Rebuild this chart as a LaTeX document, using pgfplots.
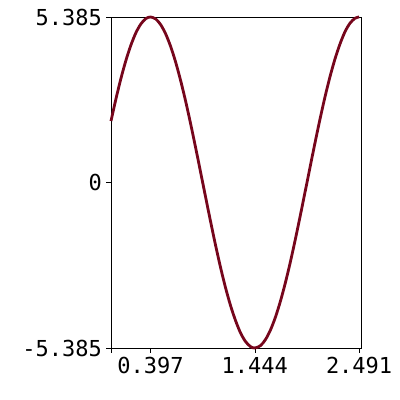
\documentclass[border=0pt]{standalone}
\usepackage{pgfplots}
\pgfplotsset{compat=1.18}
\usepackage{fontspec}
\setmainfont{DejaVu Sans Mono}
\definecolor{curve}{RGB}{118,6,28}
\begin{document}
\begin{tikzpicture}[x=1bp,y=1bp]
\useasboundingbox (0,0) rectangle (400,400);
\begin{axis}[
  at={(111bp,52bp)}, anchor=south west,
  scale only axis, width=250bp, height=331bp,
  xmin=0, xmax=2.51, ymin=-5.385, ymax=5.385,
  axis line style={black, line width=0.8pt},
  xtick={0,0.397,1.444,2.491},
  xticklabels={,0.397,1.444,2.491},
  ytick={-5.385,0,5.385},
  yticklabels={-5.385,0,5.385},
  xtick pos=bottom, ytick pos=left,
  tick align=outside,
  major tick length=5bp,
  tick style={black, line width=0.6pt},
  /pgf/number format/assume math mode=true,
  tick label style={font=\fontsize{22bp}{24bp}\selectfont},
  yticklabel style={inner sep=1bp, xshift=-3bp},
  xticklabel style={inner sep=1bp, yshift=-3bp},
  clip=false,
]
\addplot[curve, line width=2.8bp, smooth] coordinates {
(0,2.000) (0.05,2.725) (0.1,3.388) (0.15,3.975) (0.2,4.472) (0.25,4.871)
(0.3,5.159) (0.35,5.332) (0.397,5.385) (0.45,5.317) (0.5,5.129) (0.55,4.826)
(0.6,4.415) (0.65,3.905) (0.7,3.306) (0.75,2.636) (0.8,1.902) (0.85,1.127)
(0.9,0.329) (0.95,-0.479) (1.0,-1.274) (1.05,-2.045) (1.1,-2.766) (1.15,-3.424)
(1.2,-4.002) (1.25,-4.489) (1.3,-4.891) (1.35,-5.172) (1.4,-5.338) (1.444,-5.385)
(1.5,-5.309) (1.55,-5.115) (1.6,-4.806) (1.65,-4.389) (1.7,-3.873) (1.75,-3.271)
(1.8,-2.596) (1.85,-1.859) (1.9,-1.083) (1.95,-0.284) (2.0,0.523) (2.05,1.318)
(2.1,2.086) (2.15,2.805) (2.2,3.458) (2.25,4.032) (2.3,4.515) (2.35,4.910)
(2.4,5.185) (2.45,5.344) (2.491,5.385)
};
\end{axis}
\end{tikzpicture}
\end{document}
